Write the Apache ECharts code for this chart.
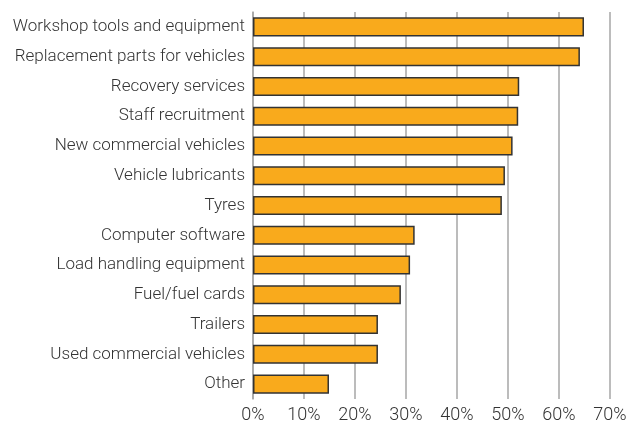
<!DOCTYPE html>
<html><head><meta charset="utf-8">
<script src="https://cdn.jsdelivr.net/npm/echarts@6/dist/echarts.min.js"></script>
<style>html,body{margin:0;padding:0;background:#fff}#c{width:630px;height:428px}</style>
</head><body><div id="c"></div>
<script>
const categories = ["Workshop tools and equipment","Replacement parts for vehicles","Recovery services","Staff recruitment","New commercial vehicles","Vehicle lubricants","Tyres","Computer software","Load handling equipment","Fuel/fuel cards","Trailers","Used commercial vehicles","Other"];
const values = [64.9,64.1,52.2,52.0,50.9,49.4,48.8,31.7,30.8,29.0,24.5,24.5,14.9];
const font = "Roboto, sans-serif";
const chart = echarts.init(document.getElementById('c'), null, {renderer:'canvas'});
chart.setOption({
  animation:false,
  grid:{left:253,right:20,top:12,bottom:29,containLabel:false,outerBoundsMode:'none'},
  xAxis:{type:'value',min:0,max:70,interval:10,
    axisLabel:{formatter:'{value}%',color:'#333',fontSize:18,fontWeight:300,fontFamily:font,margin:7},
    axisLine:{show:false},axisTick:{show:false},
    splitLine:{show:true,lineStyle:{color:'#a6a6a6',width:1.5}}},
  yAxis:{type:'category',data:categories,inverse:true,
    axisLabel:{color:'#333',fontSize:17,fontWeight:300,fontFamily:font,margin:8},
    axisLine:{show:true,lineStyle:{color:'#a6a6a6',width:1.5}},axisTick:{show:false}},
  series:[{type:'bar',data:values,barCategoryGap:'36%',
    itemStyle:{color:'#F9AA1C',borderColor:'#333',borderWidth:1.5}}]
});
</script></body></html>
